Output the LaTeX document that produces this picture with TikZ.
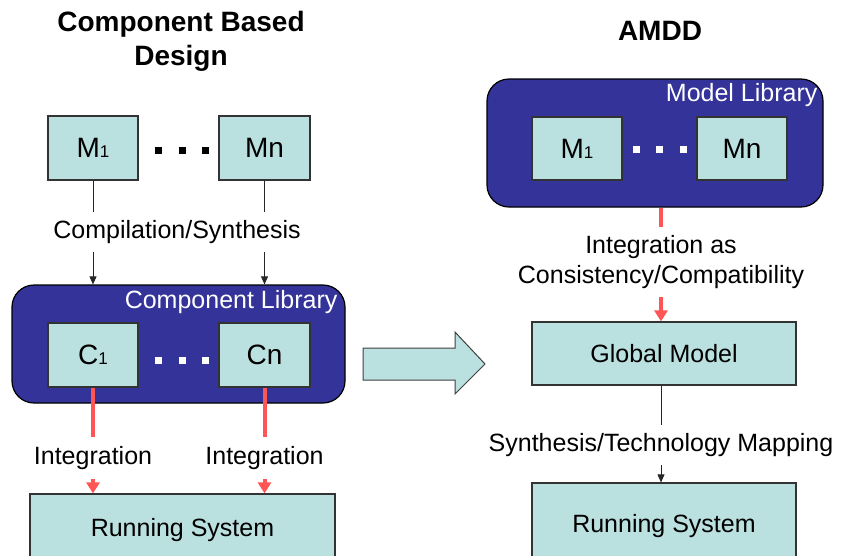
\documentclass[tikz,border=0pt]{standalone}
\usepackage{fontspec}
\setmainfont{Liberation Sans}
\usetikzlibrary{arrows.meta}
\definecolor{libblue}{RGB}{51,51,153}
\definecolor{boxfill}{RGB}{187,224,224}
\definecolor{intred}{RGB}{255,85,85}
\newcommand{\lowidx}[1]{{\fontsize{17}{17}\selectfont #1}}

\begin{document}
\begin{tikzpicture}[x=1pt,y=-1pt,font=\fontsize{25}{30}\selectfont,
  box/.style={draw=black!80,line width=1.2pt,fill=boxfill,inner sep=0pt},
  lib/.style={draw=black,line width=1.2pt,fill=libblue,rounded corners=22pt,inner sep=0pt},
  lbl/.style={inner sep=0pt,align=center},
  conn/.style={line width=0.8pt,draw=black!85},
  red/.style={line width=4pt,draw=intred},
  blk/.style={-{Triangle[length=8pt,width=7pt]}},
  redtip/.style={-{Triangle[length=11pt,width=13pt]}}]
  \useasboundingbox (0,0) rectangle (842,555);
  % component based design
  \node[lbl,font=\fontsize{28}{34}\selectfont\bfseries] (titleL) at (181,41) {Component Based\\Design};
  \node[box,minimum width=90,minimum height=64,font=\fontsize{28}{30}\selectfont] (m1) at (93,148) {M\lowidx{1}};
  \node[box,minimum width=91,minimum height=64,font=\fontsize{28}{30}\selectfont] (mn) at (264.5,148) {Mn};
  \foreach \x in {158,182,205} \fill (\x-3.5,146.5) rectangle (\x+3.5,153.5);
  \node[lbl,minimum height=40] (compsyn) at (177,232) {Compilation/Synthesis};
  \node[lib,minimum width=333,minimum height=118] (complib) at (178.5,344) {};
  \node[lbl,anchor=north east,text=white] (complibt) at ([xshift=-8,yshift=-6]complib.north east) {Component Library};
  \node[box,minimum width=90,minimum height=64,font=\fontsize{28}{30}\selectfont] (c1) at (93,355) {C\lowidx{1}};
  \node[box,minimum width=91,minimum height=64,font=\fontsize{28}{30}\selectfont] (cn) at (264.5,355) {Cn};
  \foreach \x in {158,182,205} \fill[white] (\x-3.5,356.5) rectangle (\x+3.5,363.5);
  \node[lbl,minimum height=42] (int1) at (93,458) {Integration};
  \node[lbl,minimum height=42] (int2) at (264.5,458) {Integration};
  \node[box,minimum width=305,minimum height=72] (runL) at (182.5,530) {Running System};
  \draw[conn] (m1.south) -- (m1.south|-compsyn.north);
  \draw[conn] (mn.south) -- (mn.south|-compsyn.north);
  \draw[conn,blk] (m1.south|-compsyn.south) -- (m1.south|-complib.north);
  \draw[conn,blk] (mn.south|-compsyn.south) -- (mn.south|-complib.north);
  \draw[red] (c1.south) -- (int1.north);
  \draw[red] (cn.south) -- (int2.north);
  \draw[red,redtip] (int1.south) -- (int1.south|-runL.north);
  \draw[red,redtip] (int2.south) -- (int2.south|-runL.north);
  % big arrow
  \draw[draw=black!75,line width=1pt,fill=boxfill] (363,348) -- (455,348) -- (455,332) -- (485,364)
    -- (455,394) -- (455,380) -- (363,380) -- cycle;
  % AMDD
  \node[lbl,font=\fontsize{28}{34}\selectfont\bfseries] (titleR) at (660,31) {AMDD};
  \node[lib,minimum width=336,minimum height=128] (modlib) at (655,143) {};
  \node[lbl,anchor=north east,text=white] (modlibt) at ([xshift=-6,yshift=-5]modlib.north east) {Model Library};
  \node[box,minimum width=90,minimum height=63,font=\fontsize{28}{30}\selectfont] (rm1) at (577,148.5) {M\lowidx{1}};
  \node[box,minimum width=90,minimum height=63,font=\fontsize{28}{30}\selectfont] (rmn) at (742,148.5) {Mn};
  \foreach \x in {636,659,683} \fill[white] (\x-3.5,145.5) rectangle (\x+3.5,152.5);
  \node[lbl,minimum height=70] (intas) at (661,262) {Integration as\\Consistency/Compatibility};
  \node[box,minimum width=264,minimum height=63] (global) at (664,353.5) {Global Model};
  \node[lbl,minimum height=40] (synmap) at (661,445) {Synthesis/Technology Mapping};
  \node[box,minimum width=264,minimum height=86] (runR) at (664,526) {Running System};
  \draw[red] (intas.north|-modlib.south) -- (intas.north);
  \draw[red,redtip] (intas.south) -- (intas.south|-global.north);
  \draw[conn] (synmap.north|-global.south) -- (synmap.north);
  \draw[conn,blk] (synmap.south) -- (synmap.south|-runR.north);
\end{tikzpicture}
\end{document}
